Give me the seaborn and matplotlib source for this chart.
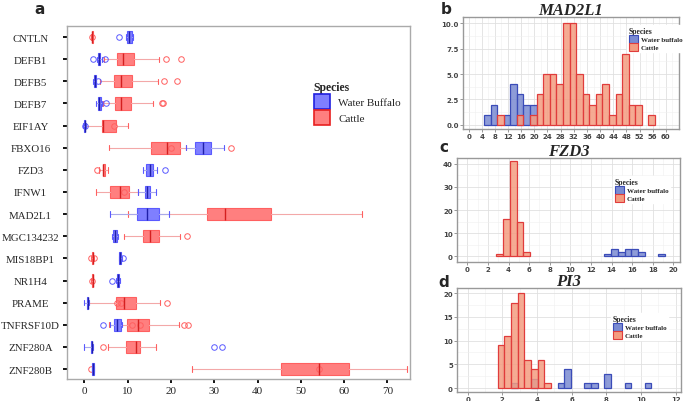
import numpy as np
import pandas as pd
import seaborn as sns
import matplotlib.pyplot as plt
from matplotlib.patches import Patch
from matplotlib.ticker import AutoMinorLocator

sns.set_theme(style="white")
plt.rcParams['font.family'] = ['Liberation Serif', 'DejaVu Serif']

# ---- panel a: box statistics per gene ----
genes = ["CNTLN", "DEFB1", "DEFB5", "DEFB7", "EIF1AY", "FBXO16", "FZD3", "IFNW1",
         "MAD2L1", "MGC134232", "MIS18BP1", "NR1H4", "PRAME", "TNFRSF10D",
         "ZNF280A", "ZNF280B"]

wb_lo = [9.6, 2.9, 2.1, 2.8, -0.2, 23.5, 13.6, 12.5, 5.9, 6.4, 7.9, 7.3, 0.0, 5.9, 0.0, 1.7]
wb_q1 = [9.9, 3.2, 2.3, 3.1, -0.05, 25.6, 14.3, 13.9, 12.2, 6.7, 8.0, 7.6, 0.6, 6.9, 1.5, 1.85]
wb_med = [10.4, 3.4, 2.5, 3.5, 0.05, 27.3, 15.1, 14.5, 14.4, 7.1, 8.2, 7.8, 0.8, 7.5, 1.7, 2.0]
wb_q3 = [10.9, 3.7, 2.6, 3.8, 0.15, 29.2, 15.9, 15.1, 17.2, 7.5, 8.5, 8.0, 0.9, 8.5, 1.8, 2.2]
wb_hi = [11.2, 4.0, 2.8, 4.1, 0.3, 32.3, 16.7, 16.6, 19.5, 7.8, 8.6, 8.3, 1.1, 8.6, 1.9, 2.3]
wb_out = [[7.9], [2.1, 4.8], [3.2], [4.9], [0.05], [], [18.7], [], [], [], [9.0], [6.5],
          [], [4.2], [30.0, 31.7], []]

ca_lo = [1.6, 4.5, 3.6, 4.3, 0.4, 5.8, 3.4, 2.7, 10.0, 9.2, 1.6, 1.6, 0.9, 5.7, 5.4, 24.8]
ca_q1 = [1.7, 7.5, 6.9, 7.0, 4.0, 15.4, 4.2, 5.9, 28.4, 13.6, 1.75, 1.75, 7.2, 9.8, 9.6, 45.4]
ca_med = [1.85, 9.0, 8.5, 8.4, 4.4, 19.0, 4.4, 8.2, 32.4, 15.2, 1.9, 1.9, 9.2, 12.3, 11.9, 54.2]
ca_q3 = [2.0, 11.5, 11.0, 10.8, 7.25, 22.1, 4.7, 10.4, 43.0, 17.3, 2.05, 2.0, 11.9, 14.9, 12.8, 61.0]
ca_hi = [2.1, 17.3, 17.1, 15.9, 10.0, 23.5, 5.5, 12.5, 64.1, 22.1, 2.2, 2.1, 17.5, 21.9, 16.5, 74.5]
ca_out = [[1.8], [18.9, 22.3], [18.4, 21.3], [17.9, 18.1], [6.8], [19.9, 33.8], [2.9], [9.2],
          [], [23.6], [1.6, 2.3], [1.7], [7.6, 8.4, 19.0], [10.9, 12.8, 23.1, 23.9],
          [4.2], [54.2, 1.5]]

# ---- panels b-d: histogram counts per bin ----
mad2l1_start, mad2l1_width = 4.7, 2.0
mad2l1_wb = [1, 2, 0, 1, 4, 3, 2, 2, 0, 0, 0, 0, 0, 0, 0, 0, 0, 0, 0, 0, 0, 0, 0, 0, 0, 0]
mad2l1_ca = [0, 0, 1, 0, 0, 1, 0, 1, 3, 5, 5, 4, 10, 10, 5, 3, 2, 3, 4, 1, 3, 7, 2, 2, 0, 1]

fzd3_start, fzd3_width = 2.82, 0.655
fzd3_wb = [0, 0, 0, 0, 0, 0, 0, 0, 0, 0, 0, 0, 0, 0, 0, 0, 1, 3, 2, 3, 3, 2, 0, 0, 1]
fzd3_ca = [1, 16, 41, 15, 2, 0, 0, 0, 0, 0, 0, 0, 0, 0, 0, 0, 0, 0, 0, 0, 0, 0, 0, 0, 0]

pi3_start, pi3_width = 1.73, 0.385
pi3_wb = [0, 0, 1, 0, 0, 2, 0, 0, 0, 1, 4, 0, 0, 1, 1, 0, 3, 0, 0, 1, 0, 0, 1]
pi3_ca = [9, 11, 18, 20, 6, 4, 6, 1, 0, 0, 0, 0, 0, 0, 0, 0, 0, 0, 0, 0, 0, 0, 0]

W, H = 685, 402
fig = plt.figure(figsize=(W / 100, H / 100), dpi=100)


def fig_rect(left, top, right, bottom):
    return [left / W, 1 - bottom / H, (right - left) / W, (bottom - top) / H]


def box_stats(lo, q1, med, q3, hi, out):
    return [dict(whislo=a, q1=b, med=c, q3=d, whishi=e, fliers=f)
            for a, b, c, d, e, f in zip(lo, q1, med, q3, hi, out)]


# ---------------- panel a ----------------
ax = fig.add_axes(fig_rect(67, 27, 410, 380))
pos = np.arange(len(genes))
for stats, fill, edge, med_c, line_c in [
        (box_stats(ca_lo, ca_q1, ca_med, ca_q3, ca_hi, ca_out), '#ff7f7f', '#ff6060', '#d42020', '#f3a8a8'),
        (box_stats(wb_lo, wb_q1, wb_med, wb_q3, wb_hi, wb_out), '#7f7fff', '#5a5aff', '#2020a8', '#aaaaea')]:
    ax.bxp(stats, positions=pos, widths=0.55, capwidths=0.24, orientation='horizontal',
           patch_artist=True, showfliers=True,
           boxprops=dict(facecolor=fill, edgecolor=edge, linewidth=0.8),
           medianprops=dict(color=med_c, linewidth=1.0),
           whiskerprops=dict(color=line_c, linewidth=0.8),
           capprops=dict(color=edge, linewidth=0.8),
           flierprops=dict(marker='o', markerfacecolor='none', markeredgecolor=edge,
                           markersize=4, markeredgewidth=0.7))

ax.set_ylim(15.45, -0.5)
ax.set_xlim(-4.0, 75.2)
ax.set_yticks(pos, genes, fontsize=7.8, ha='center')
ax.set_xticks(range(0, 71, 10), [str(v) for v in range(0, 71, 10)], fontsize=8)
ax.tick_params(axis='y', left=True, direction='out', length=3.2, width=1.3, color='black', pad=23)
ax.tick_params(axis='x', bottom=True, direction='out', length=3.2, width=1.3, color='black', pad=1.5)
for sp in ax.spines.values():
    sp.set_color('#aaaaaa')
    sp.set_linewidth(1.0)
handles = [Patch(facecolor='#7f7fff', edgecolor='#2020e0', linewidth=1.2, label='Water Buffalo'),
           Patch(facecolor='#ff7f7f', edgecolor='#e82020', linewidth=1.2, label='Cattle')]
leg = ax.legend(handles=handles, title='Species', loc='upper left',
                bbox_to_anchor=(306 / W, 1 - 74 / H), bbox_transform=fig.transFigure,
                frameon=False, fontsize=8, handlelength=1.5, handleheight=1.75,
                labelspacing=0.08, handletextpad=0.7, borderpad=0.2)
leg.get_title().set_fontweight('bold')
leg.get_title().set_fontsize(8.5)
leg._legend_box.align = 'left'

# ---------------- panels b-d ----------------
wb_fill, wb_edge = '#7a8bd2', '#3b4cb8'
ca_fill, ca_edge = '#f49c80', '#e03c3c'


def hist_panel(rect, start, width, wb, ca, title, xt, yt, ylab, xlim, ylim, leg_xy):
    hx = fig.add_axes(rect)
    edges = [start + width * i for i in range(len(wb) + 1)]
    df = pd.DataFrame({'value': [e + width / 2 for e in edges[:-1]], 'wb': wb, 'ca': ca})
    sns.histplot(data=df, x='value', weights='wb', bins=edges, ax=hx, color=wb_fill,
                 edgecolor=wb_edge, linewidth=0.9, alpha=0.85)
    sns.histplot(data=df, x='value', weights='ca', bins=edges, ax=hx, color=ca_fill,
                 edgecolor=ca_edge, linewidth=0.9, alpha=0.85)
    for p in hx.patches:
        if p.get_height() == 0:
            p.set_visible(False)
    hx.set_xlabel('')
    hx.set_ylabel('')
    hx.set_xlim(*xlim)
    hx.set_ylim(*ylim)
    hx.set_xticks(xt, [str(v) for v in xt], fontsize=5, fontweight='bold', family='DejaVu Sans')
    hx.set_yticks(yt, ylab, fontsize=5, fontweight='bold', family='DejaVu Sans')
    hx.xaxis.set_minor_locator(AutoMinorLocator(2))
    hx.yaxis.set_minor_locator(AutoMinorLocator(2))
    hx.grid(True, which='major', color='#e0e0e0', linewidth=0.6)
    hx.grid(True, which='minor', color='#efefef', linewidth=0.4)
    hx.set_axisbelow(True)
    hx.tick_params(which='major', bottom=True, left=True, length=2, width=0.6,
                   color='#888888', labelcolor='#444444', pad=1)
    hx.tick_params(which='minor', length=0)
    for sp in hx.spines.values():
        sp.set_color('#999999')
        sp.set_linewidth(1.0)
    hx.set_title(title, fontsize=12, fontweight='bold', fontstyle='italic', pad=2)
    hh = [Patch(facecolor=wb_fill, edgecolor=wb_edge, linewidth=0.8, label='Water buffalo'),
          Patch(facecolor=ca_fill, edgecolor=ca_edge, linewidth=0.8, label='Cattle')]
    lg = hx.legend(handles=hh, title='Species', loc='upper left',
                   bbox_to_anchor=(leg_xy[0] / W, 1 - leg_xy[1] / H),
                   bbox_transform=fig.transFigure, fontsize=5, frameon=True,
                   facecolor='white', edgecolor='white', framealpha=1, fancybox=False,
                   handlelength=1.3, handleheight=1.3, labelspacing=0.05,
                   handletextpad=0.4, borderpad=0.2)
    lg.get_title().set_fontweight('bold')
    lg.get_title().set_fontsize(5.5)
    lg._legend_box.align = 'left'
    for t in lg.get_texts():
        t.set_fontweight('bold')
    return hx


hist_panel(fig_rect(463, 18, 679, 130), mad2l1_start, mad2l1_width, mad2l1_wb, mad2l1_ca,
           'MAD2L1', list(range(0, 61, 4)), [0, 2.5, 5, 7.5, 10],
           ['0.0', '2.5', '5.0', '7.5', '10.0'], (-1.7, 64.0), (-0.4, 10.6), (624, 23))
hist_panel(fig_rect(457, 159, 680, 263), fzd3_start, fzd3_width, fzd3_wb, fzd3_ca,
           'FZD3', list(range(0, 21, 2)), [0, 10, 20, 30, 40],
           ['0', '10', '20', '30', '40'], (-1.0, 20.65), (-2.4, 42.5), (610, 174))
hist_panel(fig_rect(457, 289, 681, 393), pi3_start, pi3_width, pi3_wb, pi3_ca,
           'PI3', list(range(0, 13, 2)), [0, 5, 10, 15, 20],
           ['0', '5', '10', '15', '20'], (-0.61, 12.3), (-0.84, 21.1), (608, 311))

for letter, x, y in [('a', 40, 10), ('b', 446, 9), ('c', 444, 148), ('d', 444, 283)]:
    fig.text(x / W, 1 - y / H, letter, fontsize=11, fontweight='bold',
             family='DejaVu Sans', ha='center', va='center')

fig.savefig('out.png', dpi=100)
